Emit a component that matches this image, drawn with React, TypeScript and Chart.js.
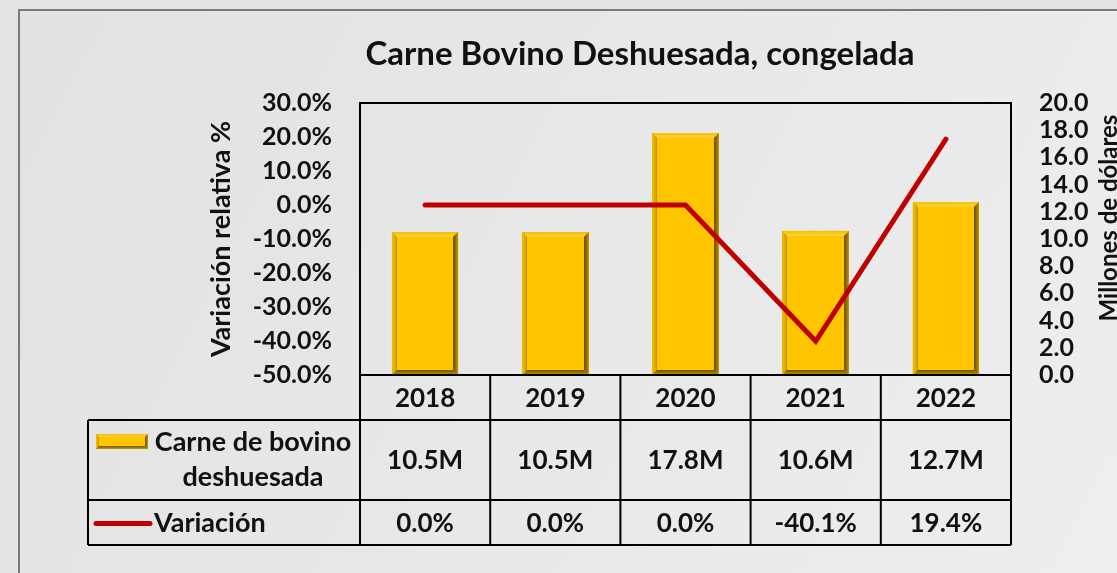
import React, { useEffect, useRef } from "react";
import { Chart, registerables } from "chart.js";

Chart.register(...registerables);

// ---- data ----
const years = ["2018", "2019", "2020", "2021", "2022"];
const exportMillions = [10.5, 10.5, 17.8, 10.6, 12.7];
const variationPct = [0.0, 0.0, 0.0, -40.1, 19.4];
const chartTitle = "Carne Bovino Deshuesada, congelada";
const leftAxisTitle = "Variación relativa %";
const rightAxisTitle = "Millones de dólares";
const barSeriesName = ["Carne de bovino", "deshuesada"];
const lineSeriesName = "Variación";

const FONT = "Lato, 'Open Sans', sans-serif";
const TEXT = "#111111";
const RED = "#C00000";

function bevelRect(ctx: CanvasRenderingContext2D, x0: number, y0: number, x1: number, y1: number, b: number) {
  ctx.save();
  ctx.fillStyle = "#D9A600";
  ctx.fillRect(x0, y0, x1 - x0, y1 - y0);
  let g = ctx.createLinearGradient(0, y0, 0, y0 + b);
  g.addColorStop(0, "#F2C000");
  g.addColorStop(1, "#FFD53A");
  ctx.fillStyle = g;
  ctx.beginPath();
  ctx.moveTo(x0, y0); ctx.lineTo(x1, y0); ctx.lineTo(x1 - b, y0 + b); ctx.lineTo(x0 + b, y0 + b); ctx.closePath();
  ctx.fill();
  g = ctx.createLinearGradient(x0, 0, x0 + b, 0);
  g.addColorStop(0, "#F0BC00");
  g.addColorStop(0.6, "#E2AE00");
  g.addColorStop(1, "#B88A00");
  ctx.fillStyle = g;
  ctx.beginPath();
  ctx.moveTo(x0, y0); ctx.lineTo(x0 + b, y0 + b); ctx.lineTo(x0 + b, y1 - b); ctx.lineTo(x0, y1); ctx.closePath();
  ctx.fill();
  g = ctx.createLinearGradient(x1 - b, 0, x1, 0);
  g.addColorStop(0, "#6A4F00");
  g.addColorStop(0.5, "#8E6C00");
  g.addColorStop(1, "#C89A00");
  ctx.fillStyle = g;
  ctx.beginPath();
  ctx.moveTo(x1, y0); ctx.lineTo(x1, y1); ctx.lineTo(x1 - b, y1 - b); ctx.lineTo(x1 - b, y0 + b); ctx.closePath();
  ctx.fill();
  g = ctx.createLinearGradient(0, y1 - b, 0, y1);
  g.addColorStop(0, "#6E5200");
  g.addColorStop(1, "#C89A00");
  ctx.fillStyle = g;
  ctx.beginPath();
  ctx.moveTo(x0, y1); ctx.lineTo(x1, y1); ctx.lineTo(x1 - b, y1 - b); ctx.lineTo(x0 + b, y1 - b); ctx.closePath();
  ctx.fill();
  ctx.fillStyle = "#FFC600";
  ctx.fillRect(x0 + b, y0 + b, x1 - x0 - 2 * b, y1 - y0 - 2 * b);
  ctx.restore();
}

const decorPlugin = {
  id: "decor",
  beforeDraw(chart: any) {
    const { ctx, width, height } = chart;
    ctx.save();
    ctx.fillStyle = "#e4e4e4";
    ctx.fillRect(0, 0, width, height);
    const g = ctx.createLinearGradient(19, 10, width, height);
    g.addColorStop(0, "#e2e2e2");
    g.addColorStop(1, "#eeeeee");
    ctx.fillStyle = g;
    ctx.fillRect(19, 10, width, height);
    ctx.strokeStyle = "#7a7a7a";
    ctx.lineWidth = 2;
    ctx.strokeRect(19, 10, width + 20, height + 20);
    ctx.restore();
  },
  afterDatasetDraw(chart: any, args: any) {
    const ds = chart.data.datasets[args.index];
    if (ds.type !== "bar") return;
    const ctx = chart.ctx;
    args.meta.data.forEach((el: any) => {
      const p = el.getProps(["x", "y", "base", "width"], true);
      const x0 = Math.round(p.x - p.width / 2);
      const x1 = Math.round(p.x + p.width / 2);
      bevelRect(ctx, x0, Math.round(p.y), x1, Math.round(p.base), 5);
    });
  },
  afterDraw(chart: any) {
    const { ctx, chartArea } = chart;
    const { left, right, top, bottom } = chartArea;
    const xs = chart.scales.x;
    const n = years.length;
    const cw = (right - left) / n;
    ctx.save();
    ctx.strokeStyle = "#000";
    ctx.lineWidth = 2;
    ctx.strokeRect(left, top, right - left, bottom - top);

    const rYear = bottom + 45;
    const rBar = rYear + 80;
    const rLine = rBar + 45;
    const tLeft = 88;
    ctx.beginPath();
    ctx.moveTo(left, bottom); ctx.lineTo(left, rLine);
    [rYear, rBar, rLine].forEach((y) => { ctx.moveTo(tLeft, y); ctx.lineTo(right, y); });
    ctx.moveTo(tLeft, rYear); ctx.lineTo(tLeft, rLine);
    for (let i = 0; i < n; i++) {
      const bx = xs.getPixelForValue(i) + cw / 2;
      ctx.moveTo(bx, bottom); ctx.lineTo(bx, rLine);
    }
    ctx.stroke();

    ctx.fillStyle = TEXT;
    ctx.textBaseline = "middle";
    ctx.textAlign = "center";
    ctx.font = `bold 26px ${FONT}`;
    for (let i = 0; i < n; i++) {
      const cx = xs.getPixelForValue(i);
      ctx.fillText(years[i], cx, (bottom + rYear) / 2 + 1);
      ctx.fillText(`${exportMillions[i].toFixed(1)}M`, cx, (rYear + rBar) / 2 + 1);
      ctx.fillText(`${variationPct[i].toFixed(1)}%`, cx, (rBar + rLine) / 2 + 1);
    }
    bevelRect(ctx, 96, rYear + 14, 148, rYear + 29, 3);
    ctx.fillStyle = TEXT;
    ctx.font = `bold 27px ${FONT}`;
    ctx.fillText(barSeriesName[0], 253, rYear + 22);
    ctx.fillText(barSeriesName[1], 253, rYear + 57);
    ctx.strokeStyle = RED;
    ctx.lineWidth = 5;
    ctx.lineCap = "round";
    ctx.beginPath();
    ctx.moveTo(96, (rBar + rLine) / 2 + 1);
    ctx.lineTo(150, (rBar + rLine) / 2 + 1);
    ctx.stroke();
    ctx.textAlign = "left";
    ctx.fillText(lineSeriesName, 154, (rBar + rLine) / 2 + 1);

    ctx.textAlign = "center";
    ctx.font = `bold 33px ${FONT}`;
    ctx.fillText(chartTitle, 640, 54);

    ctx.font = `bold 27px ${FONT}`;
    ctx.save();
    ctx.translate(221, (top + bottom) / 2);
    ctx.rotate(-Math.PI / 2);
    ctx.fillText(leftAxisTitle, 0, 0);
    ctx.restore();
    ctx.font = `bold 24px ${FONT}`;
    ctx.save();
    ctx.translate(1109, 218);
    ctx.rotate(-Math.PI / 2);
    ctx.fillText(rightAxisTitle, 0, 0);
    ctx.restore();
    ctx.restore();
  },
};

export default function App() {
  const ref = useRef<HTMLCanvasElement | null>(null);
  useEffect(() => {
    if (!ref.current) return;
    const chart = new Chart(ref.current, {
      type: "bar",
      data: {
        labels: years,
        datasets: [
          {
            type: "line",
            label: lineSeriesName,
            data: variationPct,
            yAxisID: "y",
            borderColor: RED,
            backgroundColor: RED,
            borderWidth: 5,
            pointRadius: 0,
            borderCapStyle: "round",
            tension: 0,
            order: 0,
          } as any,
          {
            type: "bar",
            label: barSeriesName.join(" "),
            data: exportMillions,
            yAxisID: "y1",
            backgroundColor: "#FFC600",
            borderWidth: 0,
            barPercentage: 0.51,
            categoryPercentage: 1,
            order: 1,
          } as any,
        ],
      },
      options: {
        responsive: false,
        animation: false,
        devicePixelRatio: 1,
        layout: { padding: { top: 103, bottom: 198, left: 0, right: 0 } },
        plugins: { legend: { display: false }, title: { display: false }, tooltip: { enabled: false } },
        scales: {
          x: { display: false, offset: true },
          y: {
            position: "left",
            min: -50,
            max: 30,
            ticks: {
              stepSize: 10,
              autoSkip: false,
              padding: 28,
              color: TEXT,
              font: { family: FONT, size: 25, weight: "bold" },
              callback: (v: any) => `${Number(v).toFixed(1)}%`,
            },
            grid: { display: false, drawTicks: false },
            border: { display: false },
            afterFit: (s: any) => { s.width = 360; },
          },
          y1: {
            position: "right",
            min: 0,
            max: 20,
            ticks: {
              stepSize: 2,
              autoSkip: false,
              padding: 28,
              color: TEXT,
              font: { family: FONT, size: 25, weight: "bold" },
              callback: (v: any) => Number(v).toFixed(1),
            },
            grid: { display: false, drawTicks: false },
            border: { display: false },
            afterFit: (s: any) => { s.width = 106; },
          },
        },
      } as any,
      plugins: [decorPlugin],
    });
    return () => chart.destroy();
  }, []);
  return (
    <div style={{ position: "absolute", left: 0, top: 0, width: 1117, height: 573 }}>
      <canvas ref={ref} width={1117} height={573} style={{ width: 1117, height: 573, display: "block" }} />
    </div>
  );
}
